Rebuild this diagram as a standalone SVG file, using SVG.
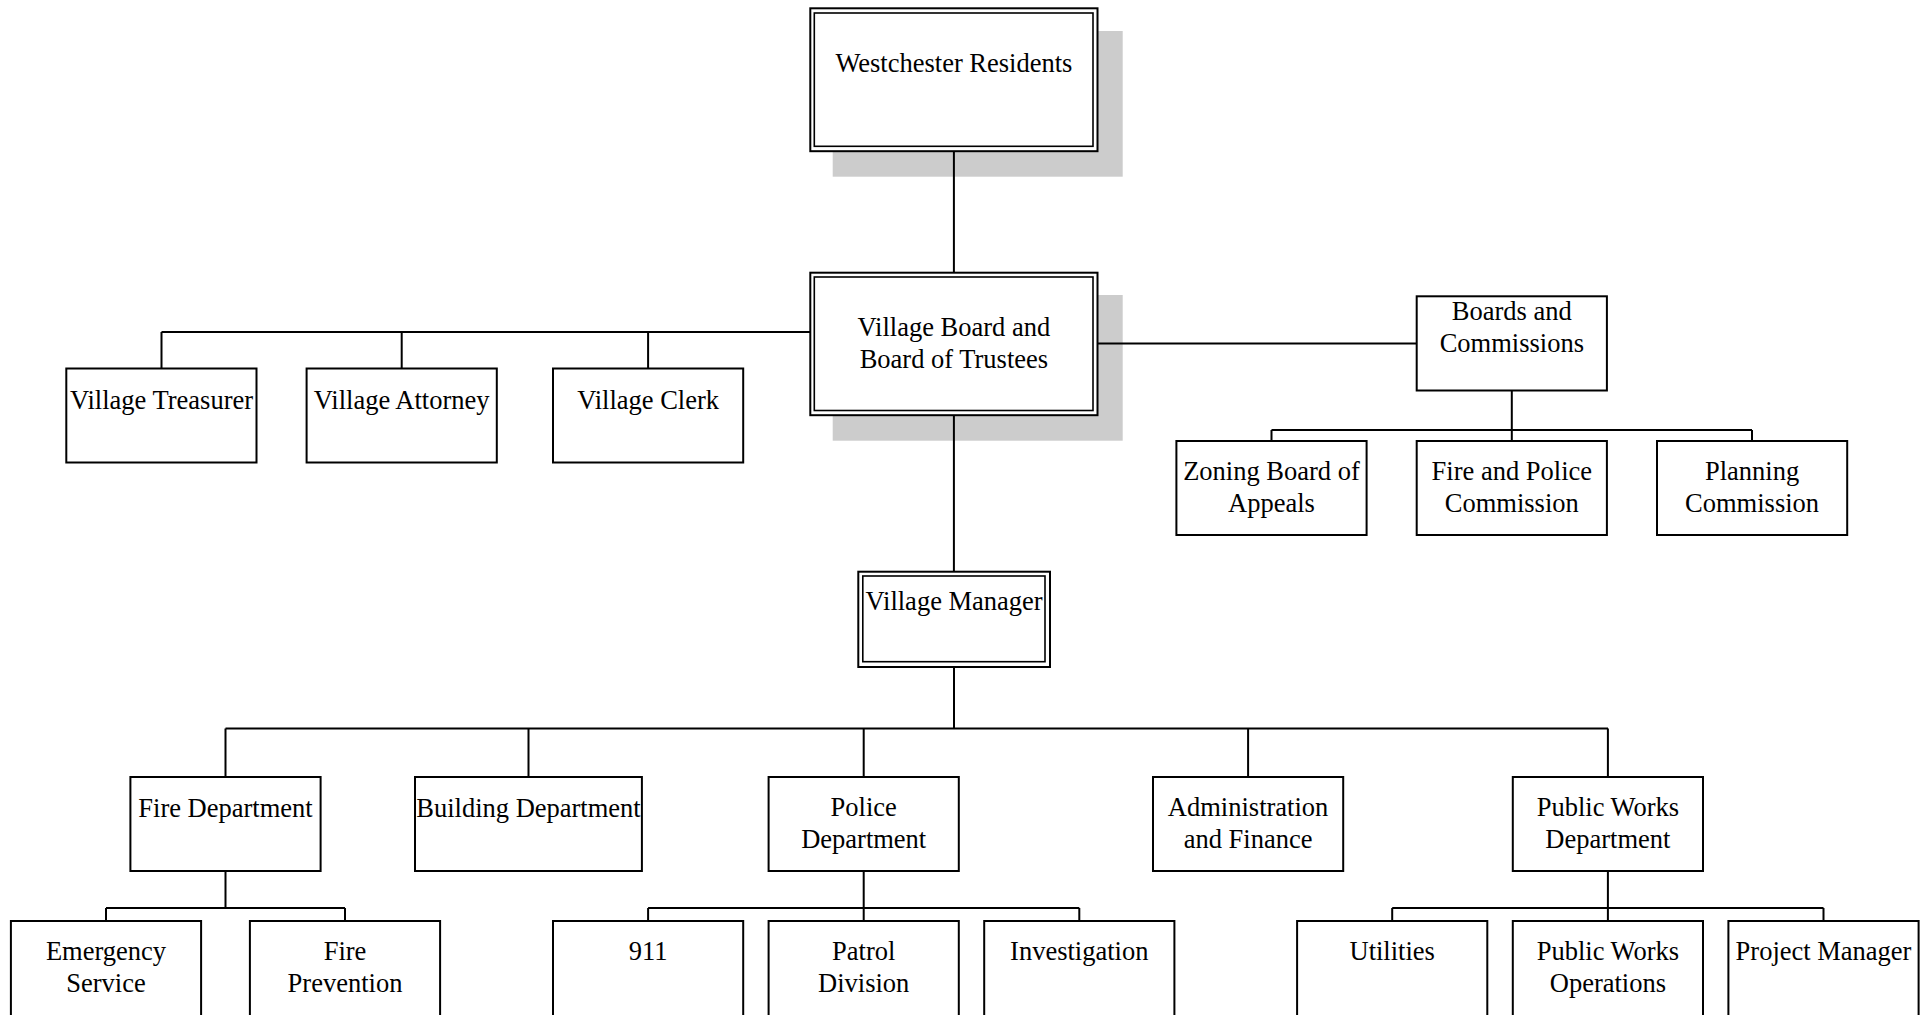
<svg xmlns="http://www.w3.org/2000/svg" width="1932" height="1015" viewBox="0 0 1932 1015">
<style>
.bg{fill:#ffffff}
.box{fill:#ffffff;stroke:#000000;stroke-width:2}
.inner{fill:none;stroke:#000000;stroke-width:1.6}
.shadow{fill:#cccccc;stroke:none}
.conn{fill:none;stroke:#000000;stroke-width:2}
text{font-family:"Liberation Serif","Times New Roman",serif;font-size:26.5px;fill:#000000;text-anchor:middle}
</style>
<rect class="bg" x="0" y="0" width="1932" height="1015"/>
<rect class="shadow" x="832.7" y="31" width="290" height="145.7"/>
<rect class="shadow" x="832.7" y="295" width="290" height="145.7"/>
<g id="connectors">
<path class="conn" d="M953.9 151 V272"/>
<path class="conn" d="M810 332 H161.5 M161.5 332 V368.5 M401.7 332 V368.5 M648.1 332 V368.5"/>
<path class="conn" d="M1098 343.5 H1416.7"/>
<path class="conn" d="M1511.8 391 V430 M1271.5 430 H1752 M1271.5 430 V441 M1752 430 V441 M1511.8 430 V441"/>
<path class="conn" d="M953.9 415 V572"/>
<path class="conn" d="M954 667 V728.5 M225.5 728.5 H1608 M225.5 728.5 V777 M528.5 728.5 V777 M863.7 728.5 V777 M1248.1 728.5 V777 M1607.9 728.5 V777"/>
<path class="conn" d="M225.5 871 V908 M106 908 H345 M106 908 V921 M345 908 V921"/>
<path class="conn" d="M863.7 871 V908 M648.1 908 H1079.3 M648.1 908 V921 M863.7 908 V921 M1079.3 908 V921"/>
<path class="conn" d="M1607.9 871 V908 M1392.2 908 H1823.5 M1392.2 908 V921 M1607.9 908 V921 M1823.5 908 V921"/>
</g>
<g id="westchester-residents">
<rect class="box" x="810.3" y="8.3" width="287.2" height="142.9"/>
<rect class="inner" x="814.3" y="13" width="278.7" height="133.3"/>
<text x="953.9" y="71.7">Westchester Residents</text>
</g>
<g id="village-board">
<rect class="box" x="810.3" y="272.7" width="287.2" height="142.5"/>
<rect class="inner" x="814.3" y="277" width="278.7" height="133.5"/>
<text x="953.9" y="336">Village Board and</text>
<text x="953.9" y="367.7">Board of Trustees</text>
</g>
<g id="village-treasurer">
<rect class="box" x="66.3" y="368.5" width="190.2" height="94"/>
<text x="161.5" y="409">Village Treasurer</text>
</g>
<g id="village-attorney">
<rect class="box" x="306.6" y="368.5" width="190.2" height="94"/>
<text x="401.7" y="409">Village Attorney</text>
</g>
<g id="village-clerk">
<rect class="box" x="553" y="368.5" width="190.2" height="94"/>
<text x="648.1" y="409">Village Clerk</text>
</g>
<g id="boards-commissions">
<rect class="box" x="1416.7" y="296.3" width="190.2" height="94.2"/>
<text x="1511.8" y="320">Boards and</text>
<text x="1511.8" y="351.7">Commissions</text>
</g>
<g id="zoning-board">
<rect class="box" x="1176.4" y="441" width="190.2" height="94"/>
<text x="1271.5" y="480">Zoning Board of</text>
<text x="1271.5" y="511.5">Appeals</text>
</g>
<g id="fire-police-commission">
<rect class="box" x="1416.7" y="441" width="190.2" height="94"/>
<text x="1511.8" y="480">Fire and Police</text>
<text x="1511.8" y="511.5">Commission</text>
</g>
<g id="planning-commission">
<rect class="box" x="1657" y="441" width="190.2" height="94"/>
<text x="1752.1" y="480">Planning</text>
<text x="1752.1" y="511.5">Commission</text>
</g>
<g id="village-manager">
<rect class="box" x="858.3" y="571.7" width="191.7" height="95.3"/>
<rect class="inner" x="862.8" y="576" width="182.2" height="85.7"/>
<text x="954.1" y="610">Village Manager</text>
</g>
<g id="fire-department">
<rect class="box" x="130.4" y="777" width="190.2" height="94"/>
<text x="225.5" y="816.7">Fire Department</text>
</g>
<g id="building-department">
<rect class="box" x="415" y="777" width="226.9" height="94"/>
<text x="528.5" y="816.7">Building Department</text>
</g>
<g id="police-department">
<rect class="box" x="768.6" y="777" width="190.2" height="94"/>
<text x="863.7" y="816">Police</text>
<text x="863.7" y="848">Department</text>
</g>
<g id="administration-finance">
<rect class="box" x="1153" y="777" width="190.2" height="94"/>
<text x="1248.1" y="816">Administration</text>
<text x="1248.1" y="848">and Finance</text>
</g>
<g id="public-works-department">
<rect class="box" x="1512.8" y="777" width="190.2" height="94"/>
<text x="1607.9" y="816">Public Works</text>
<text x="1607.9" y="848">Department</text>
</g>
<g id="emergency-service">
<rect class="box" x="10.9" y="921" width="190.2" height="100"/>
<text x="106" y="960">Emergency</text>
<text x="106" y="991.7">Service</text>
</g>
<g id="fire-prevention">
<rect class="box" x="249.9" y="921" width="190.2" height="100"/>
<text x="345" y="960">Fire</text>
<text x="345" y="991.7">Prevention</text>
</g>
<g id="n911">
<rect class="box" x="553" y="921" width="190.2" height="100"/>
<text x="648.1" y="960">911</text>
</g>
<g id="patrol-division">
<rect class="box" x="768.6" y="921" width="190.2" height="100"/>
<text x="863.7" y="960">Patrol</text>
<text x="863.7" y="991.7">Division</text>
</g>
<g id="investigation">
<rect class="box" x="984.2" y="921" width="190.2" height="100"/>
<text x="1079.3" y="960">Investigation</text>
</g>
<g id="utilities">
<rect class="box" x="1297.1" y="921" width="190.2" height="100"/>
<text x="1392.2" y="960">Utilities</text>
</g>
<g id="public-works-operations">
<rect class="box" x="1512.8" y="921" width="190.2" height="100"/>
<text x="1607.9" y="960">Public Works</text>
<text x="1607.9" y="991.7">Operations</text>
</g>
<g id="project-manager">
<rect class="box" x="1728.4" y="921" width="190.2" height="100"/>
<text x="1823.5" y="960">Project Manager</text>
</g>
</svg>
